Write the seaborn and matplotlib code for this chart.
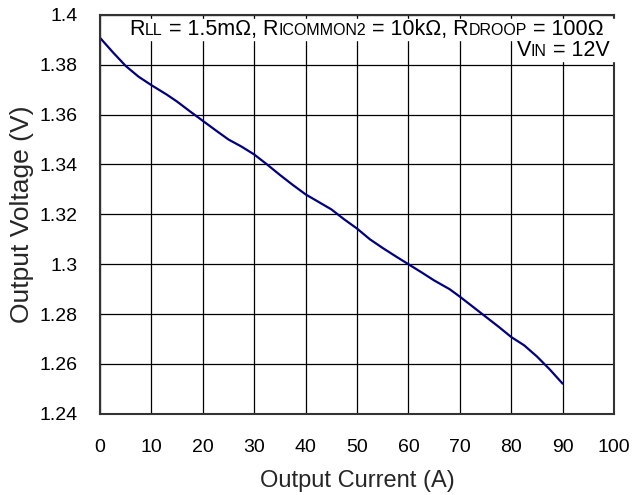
import numpy as np
import pandas as pd
import matplotlib
matplotlib.use("Agg")
import matplotlib.pyplot as plt
import seaborn as sns
from matplotlib.offsetbox import TextArea, HPacker, AnchoredOffsetbox

# values
current = [0, 2.5, 5, 7.5, 10, 13, 15, 17.5, 20, 22.5, 25, 27.5, 30, 32.5, 35,
           37.5, 40, 42.5, 45, 47.5, 50, 52.5, 55, 57.5, 60, 62.5, 65, 68,
           70, 72.5, 75, 77.5, 80, 82.5, 85, 87.5, 90]
voltage = [1.3908, 1.3850, 1.3795, 1.3752, 1.3718, 1.3680, 1.3652, 1.3613,
           1.3575, 1.3537, 1.3500, 1.3472, 1.3440, 1.3400, 1.3358, 1.3318,
           1.3280, 1.3250, 1.3220, 1.3180, 1.3143, 1.3100, 1.3065, 1.3032,
           1.3000, 1.2968, 1.2935, 1.2900, 1.2870, 1.2830, 1.2790, 1.2750,
           1.2708, 1.2675, 1.2630, 1.2578, 1.2521]

x_ticks = [0, 10, 20, 30, 40, 50, 60, 70, 80, 90, 100]
y_ticks = [1.24, 1.26, 1.28, 1.30, 1.32, 1.34, 1.36, 1.38, 1.40]
y_labels = ["1.24", "1.26", "1.28", "1.3", "1.32", "1.34", "1.36", "1.38", "1.4"]

df = pd.DataFrame({"current": current, "voltage": voltage})

sns.set_style("white")
plt.rcParams["font.family"] = ["Liberation Sans", "DejaVu Sans"]

fig = plt.figure(figsize=(6.33, 4.95), dpi=100)
ax = fig.add_axes([0.158, 0.164, 0.812, 0.806])

sns.lineplot(data=df, x="current", y="voltage", color="#000080", linewidth=1.6, ax=ax)

ax.set_xlim(0, 100)
ax.set_ylim(1.24, 1.40)
ax.set_xticks(x_ticks)
ax.set_yticks(y_ticks)
ax.set_yticklabels(y_labels)
ax.tick_params(axis="both", length=0, labelsize=14, colors="black")
ax.tick_params(axis="x", pad=18)
ax.tick_params(axis="y", pad=16)
ax.grid(True, color="black", linewidth=0.9)
for s in ax.spines.values():
    s.set_color("#333333")
    s.set_linewidth(1.5)
ax.spines["top"].set_zorder(6)

ax.set_xlabel("Output Current (A)", fontsize=17, labelpad=10)
ax.set_ylabel("Output Voltage (V)", fontsize=19, labelpad=4)


def label_row(parts):
    kids = [TextArea(t, textprops=dict(fontsize=sz, color="black")) for t, sz in parts]
    return HPacker(children=kids, align="baseline", pad=0, sep=0)


big, small = 15.5, 11.5
row1 = label_row([("R", big), ("LL", small), (" = 1.5m\u03a9, R", big), ("ICOMMON2", small),
                  (" = 10k\u03a9, R", big), ("DROOP", small), (" = 100\u03a9  ", big)])
row2 = label_row([("V", big), ("IN", small), (" = 12V ", big)])

for row, y in [(row1, 0.989), (row2, 0.937)]:
    box = AnchoredOffsetbox(loc="upper right", child=row, pad=0, borderpad=0,
                            frameon=True, bbox_to_anchor=(1.003, y),
                            bbox_transform=ax.transAxes)
    box.patch.set_facecolor("white")
    box.patch.set_edgecolor("white")
    box.set_zorder(5)
    ax.add_artist(box)

fig.savefig("out.png", dpi=100)
